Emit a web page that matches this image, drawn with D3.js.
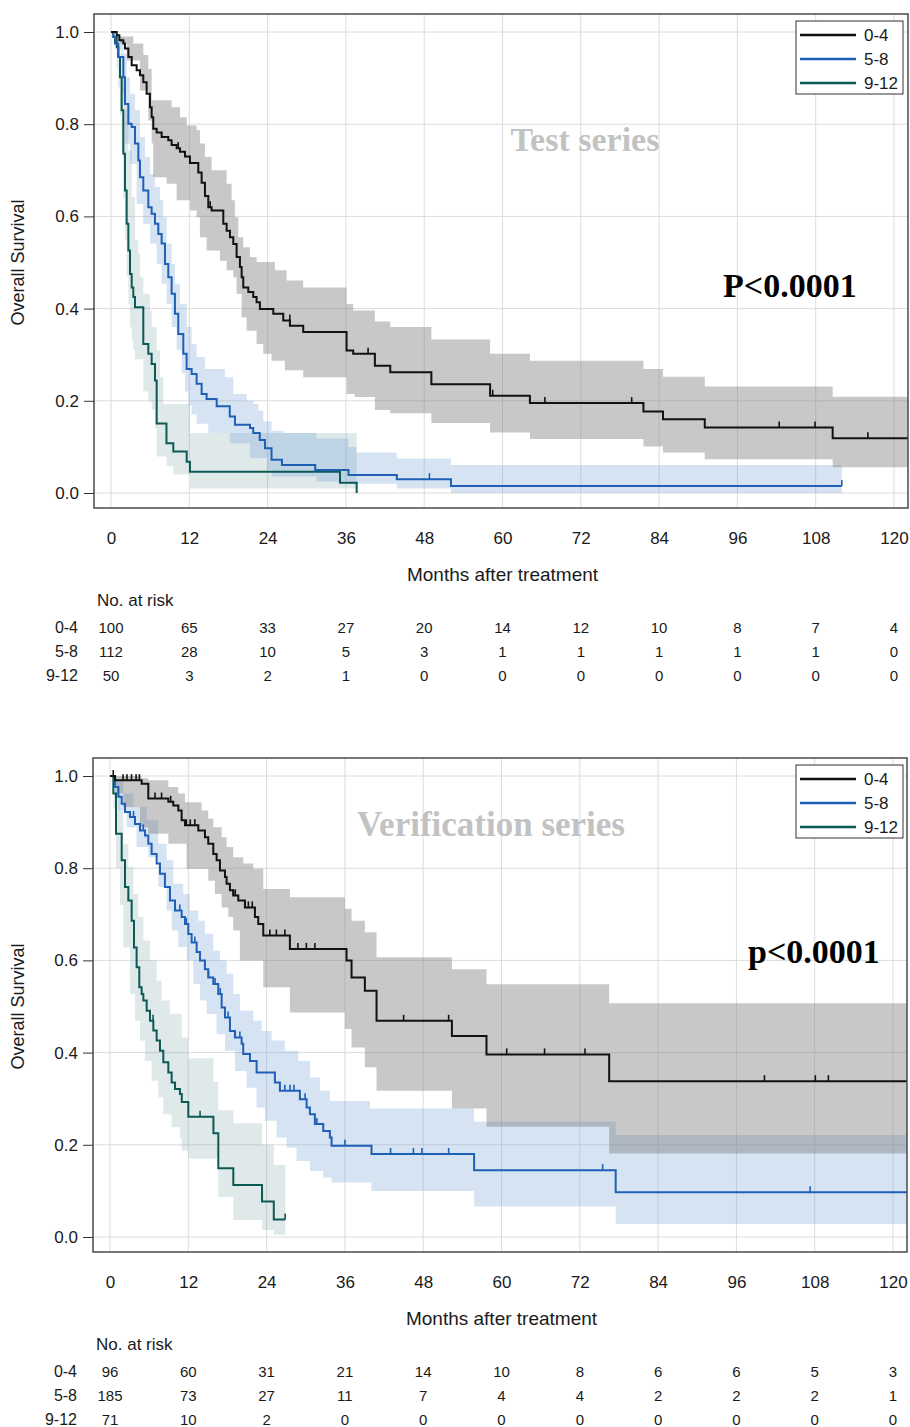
<!DOCTYPE html>
<html>
<head>
<meta charset="utf-8">
<script src="https://cdn.jsdelivr.net/npm/d3@7"></script>
<style>
  body { margin: 0; background: #fff; }
  text { font-family: "Liberation Sans", Arial, sans-serif; fill: #1a1a1a; }
  .narrow { font-family: "Liberation Sans Narrow", "Arial Narrow", "Liberation Sans", sans-serif; }
  .serif { font-family: "Liberation Serif", "Times New Roman", serif; font-weight: bold; }
</style>
</head>
<body>
<svg id="chart" width="910" height="1427"></svg>
<script>
// ---- shared axes / categories ----
const months = [0, 12, 24, 36, 48, 60, 72, 84, 96, 108, 120];
const survTicks = [0, 0.2, 0.4, 0.6, 0.8, 1.0];
const groups = ['0-4', '5-8', '9-12'];

// ---- Test series: KM estimate [month, survival] ----
const testSurv04 = [[0,1],[0.87,0.993],[1.28,0.982],[1.89,0.975],[2.14,0.964],[2.66,0.946],[3.17,0.928],[3.93,0.917],[4.44,0.906],[4.95,0.891],[5.46,0.866],[5.97,0.837],[6.23,0.815],[6.48,0.79],[7.0,0.782],[7.76,0.772],[8.78,0.765],[9.29,0.755],[10.06,0.748],[10.57,0.74],[11.34,0.73],[12.1,0.716],[13.38,0.695],[13.89,0.673],[14.4,0.644],[14.91,0.62],[15.42,0.613],[17.21,0.584],[17.72,0.569],[18.23,0.555],[18.74,0.54],[19.25,0.512],[19.76,0.49],[20.02,0.468],[20.27,0.446],[21.04,0.436],[21.8,0.425],[22.31,0.414],[22.82,0.399],[24.87,0.389],[26.4,0.374],[27.42,0.363],[29.46,0.349],[36.1,0.309],[37.12,0.302],[40.44,0.276],[42.8,0.262],[49.1,0.236],[58.1,0.211],[64.2,0.195],[81.6,0.177],[84.6,0.16],[91.0,0.142],[110.6,0.119]];
const testHi04 = [[0,1],[1.38,0.99],[3.42,0.975],[4.95,0.95],[5.72,0.92],[6.23,0.852],[9.29,0.837],[10.57,0.815],[11.59,0.797],[13.12,0.787],[13.63,0.758],[14.4,0.729],[15.42,0.70],[17.72,0.671],[18.48,0.635],[18.99,0.598],[19.5,0.555],[20.27,0.533],[21.29,0.512],[22.31,0.501],[25.12,0.483],[26.91,0.461],[29.46,0.446],[36.1,0.41],[37.12,0.396],[40.44,0.372],[42.8,0.36],[49.1,0.333],[58.1,0.302],[64.2,0.287],[81.6,0.269],[84.6,0.252],[91.0,0.231],[110.6,0.209]];
const testLo04 = [[0,1],[1.38,0.975],[2.4,0.938],[4.44,0.873],[5.72,0.808],[6.23,0.758],[6.48,0.685],[8.53,0.671],[10.06,0.635],[12.1,0.613],[13.12,0.598],[13.63,0.555],[14.65,0.526],[16.7,0.504],[17.72,0.483],[18.74,0.468],[19.25,0.432],[20.02,0.381],[20.78,0.352],[22.31,0.323],[23.33,0.302],[24.61,0.287],[26.65,0.266],[29.46,0.251],[36.1,0.215],[37.38,0.208],[40.44,0.18],[42.8,0.173],[49.1,0.152],[58.1,0.131],[64.2,0.117],[81.6,0.101],[84.6,0.088],[91.0,0.073],[110.6,0.056]];
const testCens04 = [10.3, 15.2, 27.4, 39.4, 58.5, 66.5, 79.8, 102.4, 107.9, 116];

const testSurv58 = [[0,1],[0.36,0.989],[0.61,0.975],[1.12,0.946],[1.89,0.902],[2.14,0.844],[2.66,0.801],[3.17,0.794],[3.68,0.758],[4.19,0.721],[4.44,0.685],[4.95,0.656],[5.72,0.62],[6.23,0.606],[6.74,0.584],[7.25,0.562],[7.76,0.541],[8.27,0.497],[8.78,0.468],[9.29,0.432],[9.8,0.389],[10.31,0.345],[11.08,0.302],[11.59,0.269],[12.36,0.258],[13.12,0.237],[13.89,0.215],[14.65,0.204],[16.2,0.188],[18.2,0.166],[19.0,0.148],[21.3,0.141],[21.8,0.13],[22.8,0.115],[23.6,0.097],[24.6,0.072],[26.2,0.061],[31.3,0.05],[36.4,0.039],[43.8,0.03],[52.1,0.015]];
const testHi58 = [[0,1],[0.87,0.989],[1.89,0.953],[2.4,0.902],[2.91,0.866],[3.68,0.83],[4.44,0.772],[5.21,0.729],[5.97,0.692],[6.74,0.664],[7.51,0.635],[8.02,0.598],[8.53,0.541],[9.29,0.497],[9.8,0.454],[10.57,0.41],[11.59,0.36],[12.36,0.323],[13.12,0.295],[14.4,0.269],[17.46,0.251],[18.74,0.215],[20.78,0.2],[21.8,0.193],[22.57,0.179],[23.33,0.155],[24.61,0.135],[26.4,0.13],[31.5,0.118],[36.4,0.1],[37.63,0.088],[43.8,0.075],[52.1,0.061]];
const testLo58 = [[0,1],[0.87,0.96],[1.63,0.866],[2.14,0.758],[2.91,0.714],[3.93,0.627],[4.95,0.584],[5.97,0.541],[7.0,0.497],[7.76,0.454],[8.53,0.41],[9.29,0.36],[10.06,0.31],[10.83,0.26],[11.34,0.22],[11.85,0.19],[12.36,0.171],[13.12,0.15],[14.9,0.13],[18.2,0.108],[21.3,0.076],[23.9,0.05],[24.6,0.036],[31.5,0.025],[36.4,0.02],[43.8,0.01],[52.1,0.0]];
const testCens58 = [48.8, 112];

const testSurv912 = [[0,1],[0.36,0.989],[0.87,0.967],[1.12,0.946],[1.38,0.902],[1.63,0.83],[1.89,0.736],[2.14,0.656],[2.4,0.584],[2.66,0.526],[2.91,0.475],[3.17,0.446],[3.42,0.425],[3.68,0.403],[4.95,0.323],[5.72,0.302],[6.23,0.28],[6.74,0.244],[7.0,0.151],[8.5,0.108],[9.55,0.09],[11.6,0.068],[12.1,0.046],[35.1,0.022],[37.65,0]];
const testHi912 = [[0,1],[1.12,0.953],[1.63,0.902],[2.14,0.83],[2.66,0.743],[3.17,0.642],[3.68,0.548],[4.19,0.519],[4.44,0.468],[4.95,0.432],[5.97,0.396],[6.23,0.36],[7.0,0.309],[7.51,0.251],[8.02,0.193],[12.1,0.13]];
const testLo912 = [[0,1],[0.87,0.92],[1.12,0.88],[1.38,0.82],[1.63,0.74],[1.89,0.64],[2.14,0.55],[2.4,0.47],[2.66,0.41],[2.91,0.36],[3.17,0.33],[3.42,0.31],[3.68,0.29],[4.95,0.22],[5.72,0.2],[6.23,0.18],[6.74,0.14],[7.0,0.079],[8.5,0.058],[9.55,0.04],[12.1,0.01]];
const testCens912 = [];

// ---- Verification series ----
const verSurv04 = [[0,1],[0.77,0.991],[4.85,0.983],[5.87,0.951],[8.94,0.944],[9.7,0.936],[10.47,0.925],[10.98,0.904],[11.49,0.893],[13.53,0.882],[14.55,0.867],[15.06,0.853],[15.83,0.831],[16.34,0.817],[16.85,0.795],[17.62,0.781],[17.87,0.766],[18.38,0.752],[18.89,0.741],[19.66,0.73],[20.68,0.715],[22.21,0.694],[22.72,0.679],[23.49,0.654],[27.57,0.625],[36.25,0.6],[37.02,0.563],[39.06,0.534],[40.85,0.469],[52.4,0.436],[57.7,0.396],[76.5,0.338]];
const verHi04 = [[0,1],[4.85,0.995],[5.87,0.991],[8.94,0.976],[10.47,0.962],[11.49,0.943],[14.04,0.925],[15.06,0.907],[15.83,0.889],[17.11,0.867],[17.87,0.846],[18.89,0.824],[20.42,0.81],[21.96,0.799],[23.49,0.755],[27.57,0.737],[36.0,0.712],[37.02,0.686],[39.06,0.661],[40.85,0.607],[52.4,0.581],[57.7,0.548],[76.5,0.507]];
const verLo04 = [[0,1],[0.77,0.98],[1.02,0.962],[2.04,0.933],[4.6,0.889],[5.87,0.875],[8.94,0.853],[11.74,0.799],[15.06,0.773],[16.08,0.744],[17.11,0.715],[18.13,0.694],[18.89,0.665],[19.91,0.6],[23.49,0.542],[27.57,0.487],[36.0,0.451],[37.02,0.411],[39.06,0.368],[40.85,0.317],[52.4,0.279],[57.7,0.239],[76.5,0.181]];
const verCens04 = [0.5, 2.0, 2.6, 3.3, 4.0, 4.5, 6.9, 7.9, 9.3, 11.7, 12.3, 13.0, 18.9, 19.2, 20.7, 21.2, 21.8, 24.5, 25.5, 26.8, 28.8, 30.1, 31.4, 45.0, 51.9, 60.8, 66.6, 72.8, 100.3, 108.1, 110.1];

const verSurv58 = [[0,1],[0.77,0.976],[1.28,0.955],[1.79,0.94],[2.3,0.922],[3.06,0.911],[3.83,0.896],[4.6,0.882],[5.36,0.871],[5.87,0.853],[6.38,0.831],[7.15,0.81],[7.66,0.788],[8.42,0.759],[9.19,0.73],[9.96,0.708],[10.98,0.694],[11.49,0.679],[12.0,0.657],[12.51,0.639],[13.28,0.618],[13.79,0.6],[14.55,0.581],[15.06,0.563],[15.83,0.549],[16.59,0.527],[17.11,0.498],[17.62,0.476],[18.38,0.447],[19.15,0.433],[20.17,0.419],[20.42,0.397],[21.45,0.382],[22.47,0.357],[25.27,0.335],[26.04,0.317],[29.1,0.299],[30.13,0.281],[30.64,0.266],[31.4,0.245],[32.68,0.23],[33.7,0.216],[33.96,0.198],[40.08,0.18],[55.8,0.145],[77.5,0.097]];
const verHi58 = [[0,1],[1.02,0.991],[2.04,0.962],[3.57,0.933],[5.62,0.904],[7.4,0.853],[8.68,0.817],[9.7,0.766],[11.23,0.744],[12.25,0.708],[13.53,0.686],[14.55,0.658],[15.83,0.621],[16.85,0.6],[17.87,0.571],[18.89,0.527],[19.91,0.491],[21.96,0.469],[23.23,0.447],[24.76,0.426],[26.81,0.404],[28.85,0.382],[30.64,0.346],[32.17,0.317],[33.7,0.295],[39.83,0.279],[55.8,0.25],[77.5,0.221]];
const verLo58 = [[0,1],[0.77,0.96],[1.28,0.925],[2.55,0.889],[4.08,0.846],[5.87,0.824],[7.4,0.759],[8.68,0.708],[9.45,0.665],[10.47,0.629],[11.74,0.6],[12.77,0.549],[13.79,0.513],[14.81,0.484],[16.34,0.44],[17.62,0.404],[19.15,0.36],[20.93,0.324],[22.47,0.281],[23.74,0.252],[25.53,0.216],[27.06,0.194],[28.59,0.165],[30.64,0.143],[32.68,0.129],[33.96,0.118],[40.08,0.1],[55.8,0.066],[77.5,0.028]];
const verCens58 = [3.6, 5.1, 9.2, 10.0, 10.7, 11.7, 13.0, 15.1, 16.1, 16.9, 18.1, 19.2, 19.9, 26.8, 27.6, 28.2, 29.9, 31.7, 36.0, 43.0, 46.5, 47.8, 51.9, 75.5, 107.3];

const verSurv912 = [[0,1],[0.51,0.962],[0.92,0.875],[1.79,0.817],[2.3,0.759],[2.81,0.73],[3.32,0.686],[3.68,0.628],[4.08,0.585],[4.49,0.542],[4.85,0.527],[5.11,0.513],[5.62,0.491],[6.13,0.469],[6.64,0.448],[7.15,0.426],[7.66,0.404],[8.17,0.379],[8.94,0.357],[9.45,0.335],[9.96,0.321],[10.72,0.31],[11.0,0.293],[12.0,0.261],[15.85,0.225],[16.6,0.149],[18.9,0.113],[23.3,0.077],[25.1,0.038]];
const verHi912 = [[0,1],[0.77,0.976],[1.53,0.925],[2.04,0.853],[2.81,0.802],[3.57,0.744],[4.34,0.694],[5.11,0.643],[6.13,0.6],[7.15,0.556],[7.91,0.513],[9.19,0.484],[10.98,0.433],[12.0,0.388],[15.85,0.337],[16.6,0.275],[18.9,0.247],[23.3,0.2],[25.1,0.156]];
const verLo912 = [[0,1],[0.51,0.93],[0.92,0.8],[1.53,0.72],[2.04,0.628],[3.06,0.527],[3.83,0.469],[4.6,0.426],[5.36,0.382],[6.38,0.339],[7.4,0.303],[8.17,0.266],[9.45,0.238],[10.72,0.216],[11.0,0.187],[12.0,0.17],[16.6,0.087],[18.9,0.037],[23.3,0.015],[25.1,0.005]];
const verCens912 = [6.6, 10.0, 13.8, 26.85];

// ---- numbers at risk ----
const testRisk04 = [100, 65, 33, 27, 20, 14, 12, 10, 8, 7, 4];
const testRisk58 = [112, 28, 10, 5, 3, 1, 1, 1, 1, 1, 0];
const testRisk912 = [50, 3, 2, 1, 0, 0, 0, 0, 0, 0, 0];
const verRisk04 = [96, 60, 31, 21, 14, 10, 8, 6, 6, 5, 3];
const verRisk58 = [185, 73, 27, 11, 7, 4, 4, 2, 2, 2, 1];
const verRisk912 = [71, 10, 2, 0, 0, 0, 0, 0, 0, 0, 0];

// ---- styles ----
const lineColor = ['#111111', '#1f60b6', '#0d5955'];
const bandColor = ['rgba(125,125,125,0.42)', 'rgba(105,155,212,0.28)', 'rgba(95,145,145,0.2)'];

const svg = d3.select('#chart');

function stepAt(arr, t) {
  let v = arr[0][1];
  for (const p of arr) { if (p[0] <= t) v = p[1]; else break; }
  return v;
}

function bandRows(hi, lo, end) {
  const ts = Array.from(new Set(hi.concat(lo).map(d => d[0]))).filter(t => t < end).sort((a, b) => a - b);
  ts.push(end);
  return ts.map(t => [t, stepAt(lo, t), stepAt(hi, t)]);
}

function panel(p) {
  const oy = p.oy;
  const x = d3.scaleLinear().domain([0, 120]).range([p.x0, p.x0 + 783]);
  const y = d3.scaleLinear().domain([0, 1]).range([oy + 493, oy + 32]);
  const L = p.x0 - 17, R = p.x0 + 797, T = oy + 14, B = oy + 508;
  const g = svg.append('g');

  const clipId = 'clip' + oy;
  svg.append('clipPath').attr('id', clipId)
    .append('rect').attr('x', L).attr('y', T).attr('width', R - L).attr('height', B - T);

  // grid
  g.append('g').selectAll('line').data(months).join('line')
    .attr('x1', d => x(d)).attr('x2', d => x(d)).attr('y1', T).attr('y2', B)
    .attr('stroke', '#dcdcdc').attr('stroke-width', 1);
  g.append('g').selectAll('line').data(survTicks).join('line')
    .attr('x1', L).attr('x2', R).attr('y1', d => y(d)).attr('y2', d => y(d))
    .attr('stroke', '#dcdcdc').attr('stroke-width', 1);

  const plot = g.append('g').attr('clip-path', `url(#${clipId})`);

  // confidence bands
  const area = d3.area().x(d => x(d[0])).y0(d => y(d[1])).y1(d => y(d[2])).curve(d3.curveStepAfter);
  [2, 1, 0].forEach(i => {
    const s = p.series[i];
    plot.append('path').datum(bandRows(s.hi, s.lo, s.end))
      .attr('d', area).attr('fill', bandColor[i]).attr('stroke', 'none');
  });

  // survival curves + censor ticks
  const line = d3.line().x(d => x(d[0])).y(d => y(d[1])).curve(d3.curveStepAfter);
  [2, 1, 0].forEach(i => {
    const s = p.series[i];
    const pts = s.surv.concat([[s.end, s.surv[s.surv.length - 1][1]]]);
    plot.append('path').datum(pts).attr('d', line)
      .attr('fill', 'none').attr('stroke', lineColor[i]).attr('stroke-width', 2);
    plot.append('g').selectAll('line').data(s.cens).join('line')
      .attr('x1', d => x(d)).attr('x2', d => x(d))
      .attr('y1', d => y(stepAt(s.surv, d))).attr('y2', d => y(stepAt(s.surv, d)) - 6)
      .attr('stroke', lineColor[i]).attr('stroke-width', 1.6);
  });

  // frame
  g.append('rect').attr('x', L).attr('y', T).attr('width', R - L).attr('height', B - T)
    .attr('fill', 'none').attr('stroke', '#4a4a4a').attr('stroke-width', 1.5);

  // axes
  const yAxis = g.append('g').attr('transform', `translate(${L},0)`)
    .call(d3.axisLeft(y).tickValues(survTicks).tickFormat(d3.format('.1f')).tickSize(10).tickPadding(5));
  yAxis.select('.domain').remove();
  yAxis.selectAll('line').attr('stroke', '#333');
  yAxis.selectAll('text').attr('font-size', 17).attr('fill', '#1a1a1a')
    .style('font-family', '"Liberation Sans", Arial, sans-serif');

  const xAxis = g.append('g').attr('transform', `translate(0,${B})`)
    .call(d3.axisBottom(x).tickValues(months).tickSize(0).tickPadding(30));
  xAxis.select('.domain').remove();
  xAxis.selectAll('text').attr('font-size', 17).attr('fill', '#1a1a1a').attr('dy', '0.35em')
    .style('font-family', '"Liberation Sans", Arial, sans-serif');

  g.append('text').attr('transform', `translate(24,${(y(0) + y(1)) / 2}) rotate(-90)`)
    .attr('text-anchor', 'middle').attr('font-size', 18).text('Overall Survival');
  g.append('text').attr('x', (x(0) + x(120)) / 2).attr('y', oy + 581)
    .attr('text-anchor', 'middle').attr('font-size', 19).text('Months after treatment');

  // legend
  const lg = g.append('g');
  lg.append('rect').attr('x', 796).attr('y', oy + 21).attr('width', 107).attr('height', 73)
    .attr('fill', '#fff').attr('stroke', '#333').attr('stroke-width', 1);
  groups.forEach((name, i) => {
    const yy = oy + 35 + i * 24;
    lg.append('line').attr('x1', 800).attr('x2', 856).attr('y1', yy).attr('y2', yy)
      .attr('stroke', lineColor[i]).attr('stroke-width', 2.5);
    lg.append('text').attr('x', 864).attr('y', yy + 6).attr('font-size', 17).text(name);
  });

  // titles
  g.append('text').attr('class', 'serif').attr('x', p.titleX).attr('y', oy + p.titleY)
    .attr('text-anchor', 'middle').attr('font-size', p.titleSize).style('fill', '#c2c2c2').text(p.title);
  g.append('text').attr('class', 'serif').attr('x', p.pX).attr('y', oy + p.pY)
    .attr('font-size', 34).style('fill', '#000').text(p.pText);

  // numbers at risk
  g.append('text').attr('x', p.x0 - 14).attr('y', oy + 606).attr('font-size', 17).text('No. at risk');
  p.risks.forEach((row, i) => {
    const yy = oy + 633 + i * 24;
    g.append('text').attr('x', p.x0 - 33).attr('y', yy).attr('text-anchor', 'end')
      .attr('font-size', 16).text(groups[i]);
    g.append('g').selectAll('text').data(row).join('text')
      .attr('class', 'narrow')
      .attr('x', (d, j) => x(months[j])).attr('y', yy)
      .attr('text-anchor', 'middle').attr('font-size', 15).text(d => d);
  });
}

panel({
  oy: 0, x0: 111,
  title: 'Test series', titleX: 585, titleY: 151, titleSize: 34,
  pText: 'P<0.0001', pX: 723, pY: 297,
  series: [
    { surv: testSurv04, hi: testHi04, lo: testLo04, cens: testCens04, end: 124 },
    { surv: testSurv58, hi: testHi58, lo: testLo58, cens: testCens58, end: 112 },
    { surv: testSurv912, hi: testHi912, lo: testLo912, cens: testCens912, end: 37.65 }
  ],
  risks: [testRisk04, testRisk58, testRisk912]
});

panel({
  oy: 744, x0: 110,
  title: 'Verification series', titleX: 491, titleY: 92, titleSize: 35,
  pText: 'p<0.0001', pX: 748, pY: 219,
  series: [
    { surv: verSurv04, hi: verHi04, lo: verLo04, cens: verCens04, end: 124 },
    { surv: verSurv58, hi: verHi58, lo: verLo58, cens: verCens58, end: 124 },
    { surv: verSurv912, hi: verHi912, lo: verLo912, cens: verCens912, end: 26.85 }
  ],
  risks: [verRisk04, verRisk58, verRisk912]
});
</script>
</body>
</html>
